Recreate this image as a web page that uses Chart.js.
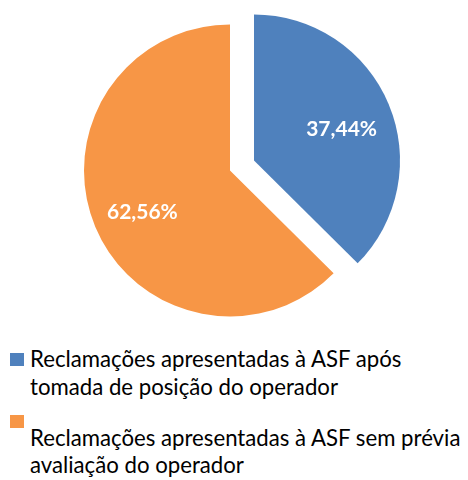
<!DOCTYPE html>
<html>
<head>
<meta charset="utf-8">
<script src="https://cdn.jsdelivr.net/npm/chart.js@4"></script>
<style>
  html, body { margin: 0; padding: 0; background: #fff; }
  #wrap { position: relative; width: 468px; height: 480px; font-family: Lato, "Open Sans", sans-serif; }
  #box { position: absolute; left: 0; top: 0; width: 468px; height: 340px; }
  .sq { position: absolute; left: 10px; width: 14px; height: 13px; }
  .txt { position: absolute; left: 30px; line-height: 27.5px; color: #000; white-space: nowrap; }
</style>
</head>
<body>
<div id="wrap">
  <div id="box"><canvas id="pieChart"></canvas></div>
  <div id="legend"></div>
</div>
<script>
const labels = [
    'Reclamações apresentadas à ASF após tomada de posição do operador',
    'Reclamações apresentadas à ASF sem prévia avaliação do operador'
];
// legend text as it wraps in the picture
const legendLines = [
    ['Reclamações apresentadas à ASF após', 'tomada de posição do operador'],
    ['Reclamações apresentadas à ASF sem prévia', 'avaliação do operador']
];
const values = [37.44, 62.56];
const colors = ['#4F81BD', '#F79646'];
const explode = [26, 0]; // px each slice is pulled out

// draw the arcs ourselves so an exploded slice keeps its radius
// (Chart.js "offset" also grows the slice)
const explodeSlices = {
    id: 'explodeSlices',
    beforeDatasetDraw(chart, args) {
        const ctx = chart.ctx;
        args.meta.data.forEach((arc, i) => {
            const mid = (arc.startAngle + arc.endAngle) / 2;
            ctx.save();
            ctx.translate(Math.cos(mid) * explode[i], Math.sin(mid) * explode[i]);
            arc.draw(ctx);
            ctx.restore();
        });
        return false;
    }
};

// white percentage labels inside the slices
const sliceLabels = {
    id: 'sliceLabels',
    afterDatasetsDraw(chart) {
        const ctx = chart.ctx;
        const meta = chart.getDatasetMeta(0);
        ctx.save();
        ctx.fillStyle = '#fff';
        ctx.font = 'bold 21px Lato, "Open Sans", sans-serif';
        ctx.textAlign = 'center';
        ctx.textBaseline = 'middle';
        meta.data.forEach((arc, i) => {
            const mid = (arc.startAngle + arc.endAngle) / 2;
            const d = explode[i] + arc.outerRadius * 0.65;
            const x = arc.x + Math.cos(mid) * d;
            const y = arc.y + Math.sin(mid) * d + 5;
            ctx.fillText(values[i].toFixed(2).replace('.', ',') + '%', x, y);
        });
        ctx.restore();
    }
};

const ctx = document.getElementById('pieChart').getContext('2d');
const pieChart = new Chart(ctx, {
    type: 'pie',
    data: {
        labels: labels,
        datasets: [{
            data: values,
            backgroundColor: colors,
            borderWidth: 0
        }]
    },
    options: {
        maintainAspectRatio: false,
        responsive: true,
        animation: false,
        radius: 146,
        layout: { padding: { left: 0, right: 8, top: 1, bottom: 0 } },
        plugins: {
            legend: { display: false },
            tooltip: { enabled: false }
        }
    },
    plugins: [explodeSlices, sliceLabels]
});

// pick the legend font size so the longest line is ~432px wide, like the picture
const mctx = document.createElement('canvas').getContext('2d');
mctx.font = '20px Lato, "Open Sans", sans-serif';
const w20 = mctx.measureText(legendLines[1][0]).width;
const legendSize = Math.max(16, Math.min(24, 20 * 432 / w20));

// legend below the pie, built from the same arrays
const legend = document.getElementById('legend');
const sqTops = [353, 415];
const baselines = [367.5, 446];
legendLines.forEach((lines, i) => {
    const sq = document.createElement('div');
    sq.className = 'sq';
    sq.style.top = sqTops[i] + 'px';
    sq.style.background = colors[i];
    legend.appendChild(sq);
    const t = document.createElement('div');
    t.className = 'txt';
    t.style.fontSize = legendSize + 'px';
    // Lato: ascent 0.987em, content box 1.2em
    const lead = (27.5 - 1.2 * legendSize) / 2;
    t.style.top = (baselines[i] - lead - 0.987 * legendSize) + 'px';
    t.innerHTML = lines.join('<br>');
    legend.appendChild(t);
});
</script>
</body>
</html>
